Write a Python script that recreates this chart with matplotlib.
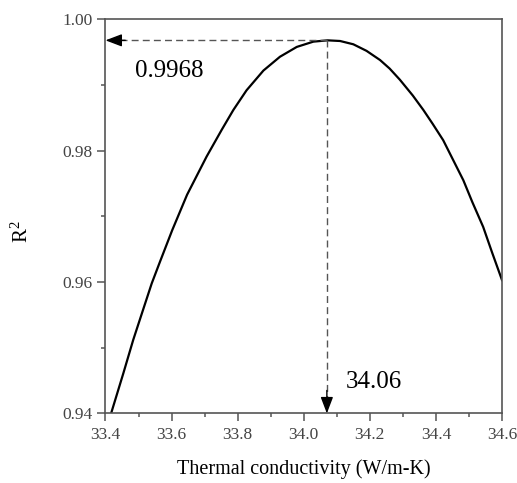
import matplotlib
matplotlib.use("Agg")
import matplotlib.pyplot as plt
from matplotlib.ticker import MultipleLocator

plt.rcParams['font.family'] = ['Liberation Serif', 'DejaVu Serif']
plt.rcParams['mathtext.fontset'] = 'custom'
plt.rcParams['mathtext.rm'] = 'Liberation Serif'
plt.rcParams['mathtext.it'] = 'Liberation Serif:italic'

# Data
k_values = [33.417, 33.454, 33.484, 33.510, 33.540, 33.565, 33.602, 33.647,
            33.706, 33.752, 33.787, 33.827, 33.878, 33.928, 33.979, 34.029,
            34.072, 34.110, 34.150, 34.190, 34.231, 34.260, 34.291, 34.330,
            34.362, 34.390, 34.422, 34.450, 34.483, 34.510, 34.543, 34.570,
            34.600]
r2_values = [0.9400, 0.9461, 0.9512, 0.9552, 0.9598, 0.9631, 0.9679, 0.9733,
             0.9791, 0.9832, 0.9862, 0.9892, 0.9922, 0.9943, 0.9958, 0.9966,
             0.9968, 0.9967, 0.9962, 0.9952, 0.9938, 0.9925, 0.9908, 0.9884,
             0.9862, 0.9841, 0.9816, 0.9788, 0.9755, 0.9722, 0.9684, 0.9645,
             0.9603]
peak_k = 34.07
peak_r2 = 0.9968
peak_k_label = "34.06"
peak_r2_label = "0.9968"
x_ticks = [33.4, 33.6, 33.8, 34.0, 34.2, 34.4, 34.6]
y_ticks = [0.94, 0.96, 0.98, 1.00]

fig = plt.figure(figsize=(5.17, 4.83), dpi=100)
ax = fig.add_axes([0.204, 0.144, 0.767, 0.816])

ax.plot(k_values, r2_values, color='black', lw=1.6, solid_joinstyle='round')

dash_color = '#555555'
ax.plot([peak_k, 33.44], [peak_r2, peak_r2], color=dash_color, lw=1.0, dashes=(5, 3))
ax.plot([peak_k, peak_k], [peak_r2, 0.9425], color=dash_color, lw=1.0, dashes=(5, 3))

ax.annotate('', xy=(33.4, peak_r2), xytext=(33.46, peak_r2),
            arrowprops=dict(arrowstyle='-|>,head_length=1.0,head_width=0.38',
                            color='black', lw=1.0, shrinkA=0, shrinkB=0))
ax.annotate('', xy=(peak_k, 0.94), xytext=(peak_k, 0.9435),
            arrowprops=dict(arrowstyle='-|>,head_length=1.0,head_width=0.38',
                            color='black', lw=1.0, shrinkA=0, shrinkB=0))

ax.text(33.489, 0.9921, peak_r2_label, fontsize=18, ha='left', va='center', color='black')
ax.text(34.128, 0.9448, peak_k_label, fontsize=18, ha='left', va='center', color='black')

ax.set_xlim(33.4, 34.6)
ax.set_ylim(0.94, 1.00)
ax.set_xticks(x_ticks)
ax.set_xticklabels([f"{v:.1f}" for v in x_ticks])
ax.set_yticks(y_ticks)
ax.set_yticklabels([f"{v:.2f}" for v in y_ticks])
ax.xaxis.set_minor_locator(MultipleLocator(0.1))
ax.yaxis.set_minor_locator(MultipleLocator(0.01))

spine_color = '#555555'
for s in ax.spines.values():
    s.set_color(spine_color)
    s.set_linewidth(1.2)
ax.tick_params(which='major', direction='out', length=6, width=1.1, color=spine_color,
               labelsize=12.5, labelcolor='#444444', top=False, right=False)
ax.tick_params(which='minor', direction='out', length=3, width=1.1, color=spine_color,
               top=False, right=False)

ax.set_xlabel('Thermal conductivity (W/m-K)', fontsize=14.5, labelpad=12)
ax.set_ylabel('R$^{2}$', fontsize=15)
ax.yaxis.set_label_coords(-0.183, 0.46)

fig.savefig('out.png', dpi=100)
